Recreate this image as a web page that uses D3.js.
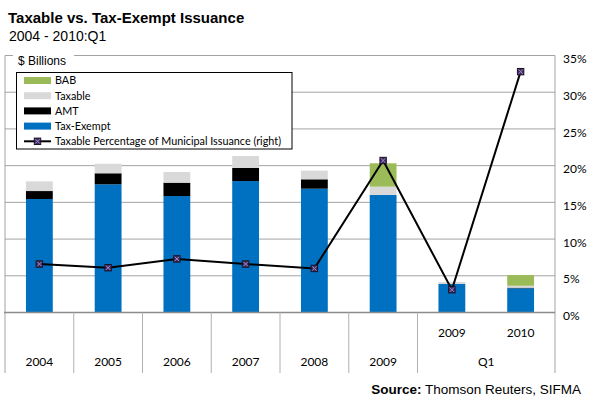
<!DOCTYPE html>
<html>
<head>
<meta charset="utf-8">
<script src="https://cdn.jsdelivr.net/npm/d3@7"></script>
<style>
  html, body { margin: 0; padding: 0; background: #fff; }
  svg { display: block; }
</style>
</head>
<body>
<svg id="chart" width="592" height="399"></svg>
<script>
// Quarterly-average issuance, $ billions, with the taxable share on the right axis
const categories  = ["2004", "2005", "2006", "2007", "2008", "2009", "2009 Q1", "2010 Q1"];
const yearLabels  = ["2004", "2005", "2006", "2007", "2008", "2009", "2009", "2010"];
const taxExempt   = [77.3, 87.3, 79.3, 89.5, 84.3, 80.0, 19.4, 16.5];
const amt         = [5.4, 7.5, 9.1, 8.9, 6.4, 0.0, 0.0, 0.4];
const taxable     = [6.6, 6.5, 7.3, 8.2, 5.9, 5.7, 1.4, 1.3];
const bab         = [0.0, 0.0, 0.0, 0.0, 0.0, 15.9, 0.0, 7.3];
const taxablePct  = [6.6, 6.1, 7.3, 6.6, 6.0, 20.7, 3.1, 32.8];
const pctTicks    = [0, 5, 10, 15, 20, 25, 30, 35];
const leftMax     = 175;

const seriesNames  = ["Tax-Exempt", "AMT", "Taxable", "BAB"];
const seriesColors = { "Tax-Exempt": "#0070C0", "AMT": "#000000", "Taxable": "#D9D9D9", "BAB": "#9BBB59" };

const svg = d3.select("#chart");
const calibri = "Lato, 'Open Sans', sans-serif";
const arial = "'Liberation Sans', Arial, sans-serif";

const plot = { left: 5, right: 555, top: 55.5, bottom: 312.5 };

const x = d3.scaleBand().domain(categories).range([plot.left, plot.right]).padding(0);
const yLeft = d3.scaleLinear().domain([0, leftMax]).range([plot.bottom, plot.top]);
const yRight = d3.scaleLinear().domain([0, 35]).range([plot.bottom, plot.top]);

// Title block
svg.append("text").attr("x", 8).attr("y", 22.5)
  .attr("font-family", arial).attr("font-weight", "bold").attr("font-size", 15)
  .attr("fill", "#000").text("Taxable vs. Tax-Exempt Issuance");
svg.append("text").attr("x", 9).attr("y", 41)
  .attr("font-family", arial).attr("font-size", 14)
  .attr("fill", "#000").text("2004 - 2010:Q1");

// Horizontal gridlines from the right-axis ticks
svg.append("g").selectAll("line").data(pctTicks.filter(d => d > 0)).join("line")
  .attr("x1", plot.left).attr("x2", plot.right)
  .attr("y1", d => yRight(d)).attr("y2", d => yRight(d))
  .attr("stroke", "#a3a3a3").attr("stroke-width", 1);

// Stacked bars
const rows = categories.map((c, i) => ({
  cat: c, "Tax-Exempt": taxExempt[i], "AMT": amt[i], "Taxable": taxable[i], "BAB": bab[i]
}));
const stacked = d3.stack().keys(seriesNames)(rows);
const barW = x.bandwidth() * 0.39;

svg.append("g").selectAll("g").data(stacked).join("g")
  .attr("fill", d => seriesColors[d.key])
  .selectAll("rect").data(d => d.filter(s => s[1] - s[0] > 0)).join("rect")
  .attr("x", d => x(d.data.cat) + (x.bandwidth() - barW) / 2)
  .attr("width", barW)
  .attr("y", d => yLeft(d[1]))
  .attr("height", d => yLeft(d[0]) - yLeft(d[1]));

// Frame: left edge, right edge, top and bottom axis
svg.append("line").attr("x1", plot.left).attr("x2", plot.left)
  .attr("y1", plot.top).attr("y2", 373).attr("stroke", "#a3a3a3");
svg.append("line").attr("x1", plot.right).attr("x2", plot.right)
  .attr("y1", plot.top).attr("y2", 373).attr("stroke", "#a3a3a3");
svg.append("line").attr("x1", plot.left).attr("x2", plot.right)
  .attr("y1", plot.top).attr("y2", plot.top).attr("stroke", "#a3a3a3");
svg.append("line").attr("x1", plot.left - 1).attr("x2", plot.right)
  .attr("y1", plot.bottom).attr("y2", plot.bottom).attr("stroke", "#8c8c8c").attr("stroke-width", 1.6);

// Category separators below the axis (no divider inside the Q1 group)
const seps = categories.slice(1).map(c => x(c)).filter((v, i) => categories[i + 1] !== "2010 Q1");
svg.append("g").selectAll("line").data(seps).join("line")
  .attr("x1", d => d).attr("x2", d => d)
  .attr("y1", plot.bottom).attr("y2", 373)
  .attr("stroke", "#b0b0b0");

// Category labels
const labelG = svg.append("g").attr("font-family", calibri).attr("font-size", 12)
  .attr("fill", "#000").attr("text-anchor", "middle");
categories.forEach((c, i) => {
  const cx = x(c) + x.bandwidth() / 2;
  const isQ = c.endsWith("Q1");
  labelG.append("text").attr("x", cx).attr("y", isQ ? 337 : 366).text(yearLabels[i]);
});
const qStart = x("2009 Q1"), qEnd = x("2010 Q1") + x.bandwidth();
labelG.append("text").attr("x", (qStart + qEnd) / 2).attr("y", 366).text("Q1");

// Right axis
const rightAxis = d3.axisRight(yRight).tickValues(pctTicks).tickFormat(d => d + "%").tickSize(0).tickPadding(8);
const ra = svg.append("g").attr("transform", `translate(${plot.right},0)`).call(rightAxis);
ra.select(".domain").remove();
ra.selectAll("text").attr("font-family", calibri).attr("font-size", 12).attr("fill", "#000")
  .attr("dy", "0.6em");

// Taxable percentage line
const line = d3.line().x((d, i) => x(categories[i]) + x.bandwidth() / 2).y(d => yRight(d));
svg.append("path").datum(taxablePct).attr("d", line)
  .attr("fill", "none").attr("stroke", "#000").attr("stroke-width", 2);

function marker(g, cx, cy) {
  const s = 3.2;
  g.append("rect").attr("x", cx - s).attr("y", cy - s).attr("width", 2 * s).attr("height", 2 * s)
    .attr("fill", "#3d2d5c").attr("stroke", "#1a1226").attr("stroke-width", 1);
  g.append("path").attr("d", `M${cx - s + 1},${cy - s + 1}L${cx + s - 1},${cy + s - 1}M${cx + s - 1},${cy - s + 1}L${cx - s + 1},${cy + s - 1}`)
    .attr("stroke", "#a988d6").attr("stroke-width", 1);
}
const mg = svg.append("g");
taxablePct.forEach((d, i) => marker(mg, x(categories[i]) + x.bandwidth() / 2, yRight(d)));

// Axis caption
svg.append("rect").attr("x", 13).attr("y", 50).attr("width", 61).attr("height", 12).attr("fill", "#fff");
svg.append("text").attr("x", 18).attr("y", 64.5)
  .attr("font-family", arial).attr("font-size", 12).attr("fill", "#000").text("$ Billions");

// Legend
const lg = svg.append("g");
lg.append("rect").attr("x", 16.5).attr("y", 72.5).attr("width", 275.5).attr("height", 76.5)
  .attr("fill", "#fff").attr("stroke", "#000").attr("stroke-width", 1);
const legendItems = ["BAB", "Taxable", "AMT", "Tax-Exempt"];
legendItems.forEach((name, i) => {
  const cy = 80.5 + i * 15.2;
  lg.append("rect").attr("x", 24).attr("y", cy - 3.5).attr("width", 27).attr("height", 7)
    .attr("fill", seriesColors[name]);
  lg.append("text").attr("x", 55).attr("y", cy + 3.8)
    .attr("font-family", calibri).attr("font-size", 10.8).attr("fill", "#000").text(name);
});
const ly = 80.5 + 4 * 15.2;
lg.append("line").attr("x1", 24).attr("x2", 51).attr("y1", ly).attr("y2", ly)
  .attr("stroke", "#000").attr("stroke-width", 2);
marker(lg, 37.5, ly);
lg.append("text").attr("x", 55).attr("y", ly + 3.8)
  .attr("font-family", calibri).attr("font-size", 10.8).attr("fill", "#000")
  .text("Taxable Percentage of Municipal Issuance  (right)");

// Source note
const src = svg.append("text").attr("x", 581).attr("y", 394).attr("text-anchor", "end")
  .attr("font-family", arial).attr("font-size", 13.5).attr("fill", "#000");
src.append("tspan").attr("font-weight", "bold").text("Source:");
src.append("tspan").text(" Thomson Reuters, SIFMA");
</script>
</body>
</html>
